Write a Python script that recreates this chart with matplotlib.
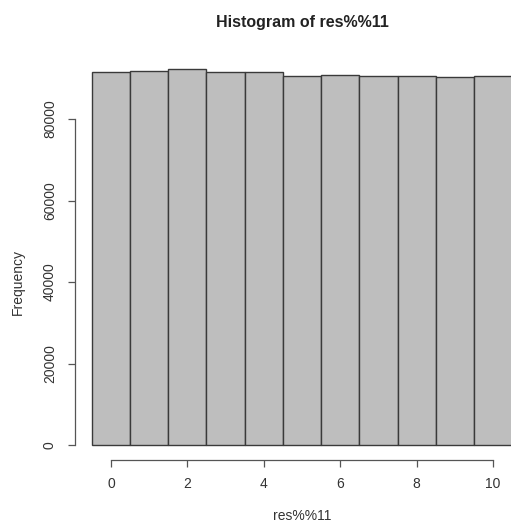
import matplotlib
matplotlib.use('Agg')
import matplotlib.pyplot as plt

# counts of res %% 11 for each remainder
remainders = list(range(11))
counts = [91530, 91780, 92270, 91530, 91530, 90430, 90920, 90550, 90550, 90300, 90550]
y_ticks = [0, 20000, 40000, 60000, 80000]
x_ticks = [0, 2, 4, 6, 8, 10]

plt.rcParams['font.family'] = ['Liberation Sans', 'DejaVu Sans']
W, H = 511, 523
fig = plt.figure(figsize=(W / 100, H / 100), dpi=100)

# axes box in pixels: left 75, right 511, bottom 460, top 50
ax = fig.add_axes([75 / W, (H - 460) / H, (511 - 75) / W, (460 - 50) / H])
ax.bar(remainders, counts, width=1.0, color='#bebebe', edgecolor='#3a3a3a', linewidth=1.0)

ax.set_xlim(-0.942, 10.471)
ax.set_ylim(-3681, 96933)

for s in ['top', 'right']:
    ax.spines[s].set_visible(False)
ax.spines['left'].set_bounds(0, 80000)
ax.spines['bottom'].set_bounds(0, 10)
for s in ['left', 'bottom']:
    ax.spines[s].set_color('#555555')
    ax.spines[s].set_linewidth(0.9)

ax.set_xticks(x_ticks)
ax.set_yticks(y_ticks)
ax.set_yticklabels([str(v) for v in y_ticks], rotation=90, va='center')
ax.tick_params(axis='both', labelsize=10, length=5, width=0.9, color='#555555',
               labelcolor='#333333')
ax.tick_params(axis='y', pad=8)
ax.tick_params(axis='x', pad=7)

fig.text(302 / W, 1 - 22 / H, 'Histogram of res%%11', ha='center', va='center',
         fontsize=11.5, fontweight='bold', color='#222222')
fig.text(302 / W, 1 - 516 / H, 'res%%11', ha='center', va='center',
         fontsize=10, color='#333333')
fig.text(18 / W, 1 - 282 / H, 'Frequency', ha='center', va='center',
         rotation=90, fontsize=10, color='#333333')

fig.savefig('out.png', dpi=100)
